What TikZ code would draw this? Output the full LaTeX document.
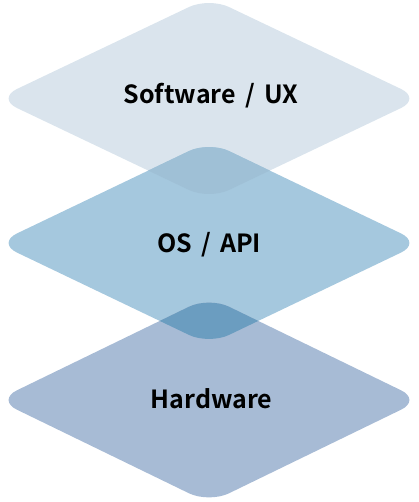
\documentclass[tikz,border=0pt]{standalone}
\usepackage{fontspec}
\newfontfamily\lblfont{Noto Sans CJK JP}[BoldFont={Noto Sans CJK JP Bold}]
\definecolor{layA}{HTML}{DAE4ED}
\definecolor{layB}{HTML}{A5C8DE}
\definecolor{layC}{HTML}{A7BBD5}
\definecolor{ovAB}{HTML}{9FC0D6}
\definecolor{ovBC}{HTML}{6B9DC0}
% diamond path: center x, center y, half height (half width 212)
\newcommand\dmdpath[3]{({#1-106},{#2-#3/2}) -- (#1,{#2-#3}) -- ({#1+212},#2) -- (#1,{#2+#3}) -- ({#1-212},#2) -- cycle}
\newcommand\wsp{\hspace{0.37em}}
\begin{document}
\begin{tikzpicture}[x=1pt,y=-1pt,
  layer/.style={rounded corners=22pt},
  lbl/.style={anchor=base,font=\lblfont\bfseries\fontsize{25}{30}\selectfont,text=black,inner sep=0pt}]
\useasboundingbox (0,0) rectangle (419,502);
\fill[layer,layA] \dmdpath{209}{98.5}{101};
\fill[layer,layB] \dmdpath{209}{243}{101.5};
\fill[layer,layC] \dmdpath{209}{400}{103};
\begin{scope}
  \clip[layer] \dmdpath{209}{98.5}{101};
  \fill[layer,ovAB] \dmdpath{209}{243}{101.5};
\end{scope}
\begin{scope}
  \clip[layer] \dmdpath{209}{243}{101.5};
  \fill[layer,ovBC] \dmdpath{209}{400}{103};
\end{scope}
\node[lbl] (sw) at (211,104) {Software\wsp/\wsp UX};
\node[lbl] (os) at (209,252) {OS\wsp/\wsp API};
\node[lbl] (hw) at (211.5,408) {Hardware};
\end{tikzpicture}
\end{document}
